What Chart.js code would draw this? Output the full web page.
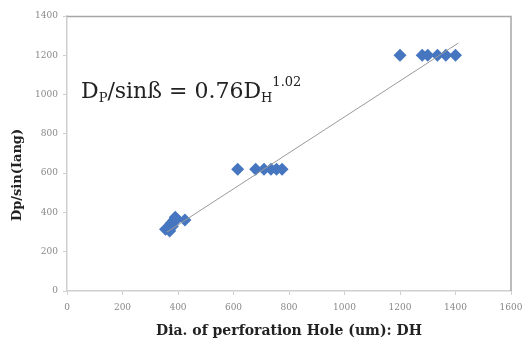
<!DOCTYPE html>
<html><head><meta charset="utf-8">
<script src="https://cdn.jsdelivr.net/npm/chart.js@4/dist/chart.umd.min.js"></script>
<style>html,body{margin:0;padding:0;background:#fff}#wrap{width:526px;height:340px}</style>
</head><body><div id="wrap"><canvas id="c" width="526" height="340"></canvas></div>
<script>
const holeDia = [355, 365, 370, 375, 380, 385, 390, 395, 425,
                 615, 680, 710, 735, 755, 775,
                 1200, 1280, 1300, 1335, 1365, 1400];
const dpSin   = [315, 320, 305, 345, 330, 360, 375, 365, 362,
                 620, 620, 620, 620, 620, 620,
                 1200, 1200, 1200, 1200, 1200, 1200];
const trendX = [360, 1410];
const trendY = [300, 1262];
const xTicks = [0, 200, 400, 600, 800, 1000, 1200, 1400, 1600];
const yTicks = [0, 200, 400, 600, 800, 1000, 1200, 1400];
const xTitle = 'Dia. of perforation Hole (um): DH';
const yTitle = 'Dp/sin(Iang)';

const serif = '"DejaVu Serif", "Liberation Serif", serif';

const framePlugin = {
  id: 'frame',
  beforeDatasetsDraw(chart) {
    const {ctx, chartArea: a} = chart;
    ctx.save();
    ctx.lineWidth = 1.5;
    ctx.strokeStyle = '#a6a6a6';
    ctx.beginPath();
    ctx.moveTo(a.left, a.top + 0.5); ctx.lineTo(a.right, a.top + 0.5); ctx.lineTo(a.right, a.bottom);
    ctx.stroke();
    ctx.restore();
  },
  afterDraw(chart) {
    const {ctx} = chart;
    ctx.save();
    ctx.translate(18, 175);
    ctx.rotate(-Math.PI / 2);
    ctx.fillStyle = '#222';
    ctx.font = 'bold 13px ' + serif;
    ctx.textAlign = 'center';
    ctx.textBaseline = 'middle';
    ctx.fillText(yTitle, 0, 0);
    ctx.restore();
    ctx.save();
    ctx.fillStyle = '#222';
    ctx.textBaseline = 'alphabetic';
    ctx.textAlign = 'left';
    const big = '22px ' + serif, small = '13px ' + serif;
    let x = 81, base = 98;
    const parts = [
      ['D', big, 0], ['P', small, 4], ['/sin\u00df = 0.76D', big, 0], ['H', small, 4], ['1.02', small, -12]
    ];
    for (const [t, f, dy] of parts) {
      ctx.font = f;
      ctx.fillText(t, x, base + dy);
      x += ctx.measureText(t).width;
    }
    ctx.restore();
  }
};

new Chart(document.getElementById('c'), {
  type: 'scatter',
  data: {
    datasets: [
      {
        label: 'data',
        data: holeDia.map((v, i) => ({x: v, y: dpSin[i]})),
        pointStyle: 'rectRot',
        pointRadius: 6.5,
        backgroundColor: '#4676c0',
        borderColor: '#4676c0',
        borderWidth: 0,
        order: 1
      },
      {
        label: 'trend',
        type: 'line',
        data: trendX.map((v, i) => ({x: v, y: trendY[i]})),
        borderColor: '#9a9a9a',
        borderWidth: 1,
        pointRadius: 0,
        fill: false,
        order: 0
      }
    ]
  },
  options: {
    responsive: false,
    animation: false,
    layout: {padding: {left: 0, right: 15, top: 16, bottom: 0}},
    plugins: {legend: {display: false}, tooltip: {enabled: false}},
    scales: {
      x: {
        type: 'linear', min: 0, max: 1600,
        afterBuildTicks: s => { s.ticks = xTicks.map(v => ({value: v})); },
        grid: {display: true, drawOnChartArea: false, drawTicks: true, tickLength: 4, color: '#cfcfcf'},
        border: {display: true, color: '#cfcfcf', width: 1.5},
        ticks: {color: '#888', font: {family: serif, size: 9}, padding: 7, callback: v => String(v)},
        title: {display: true, text: xTitle, color: '#222', font: {family: serif, size: 14, weight: 'bold'}, padding: {top: 2, bottom: 0}},
        afterFit: s => { s.height = 49; s.paddingRight = 0; s.paddingLeft = 0; }
      },
      y: {
        type: 'linear', min: 0, max: 1400,
        afterBuildTicks: s => { s.ticks = yTicks.map(v => ({value: v})); },
        grid: {display: true, drawOnChartArea: false, drawTicks: true, tickLength: 4, color: '#cfcfcf'},
        border: {display: true, color: '#cfcfcf', width: 1.5},
        ticks: {color: '#888', font: {family: serif, size: 9}, padding: 5, callback: v => String(v)},
        afterFit: s => { s.width = 67; s.paddingTop = 0; s.paddingBottom = 0; }
      }
    }
  },
  plugins: [framePlugin]
});
</script>
</body></html>
